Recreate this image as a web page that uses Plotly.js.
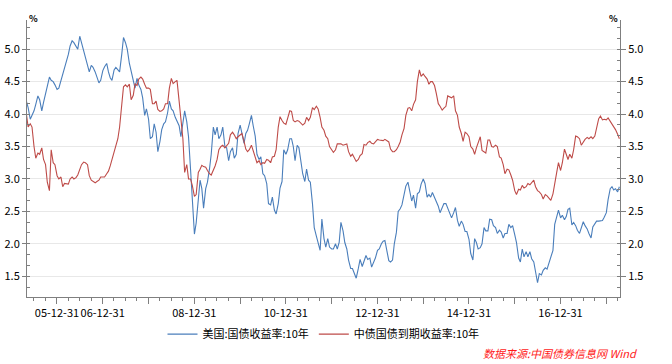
<!DOCTYPE html>
<html>
<head>
<meta charset="utf-8">
<script src="https://cdn.plot.ly/plotly-3.0.1.min.js"></script>
<style>
html,body{margin:0;padding:0;background:#fff;}
#chart{width:672px;height:364px;}
</style>
</head>
<body>
<div id="chart"></div>
<script>
// ---- data (semi-monthly readings, 1st and 15th of each month, 2005-05-01 .. 2018-04-15) ----
const seriesNames = ['美国:国债收益率:10年', '中债国债到期收益率:10年'];

const usYield10y = [
4.20,4.10,3.92,3.98,4.05,4.15,4.28,4.22,4.05,4.18,
4.32,4.42,4.57,4.52,4.50,4.45,4.38,4.40,4.52,4.58,
4.70,4.78,4.92,5.05,5.13,5.10,5.04,5.00,5.20,5.10,
4.98,4.85,4.73,4.65,4.75,4.72,4.65,4.58,4.48,4.52,
4.67,4.73,4.78,4.65,4.56,4.52,4.68,4.72,4.68,4.65,
4.92,5.18,
5.10,5.00,4.78,4.66,4.55,4.40,4.55,4.45,4.38,4.25,
3.98,4.08,3.92,3.62,3.65,3.85,3.72,3.42,3.58,3.76,
3.85,3.88,4.02,4.20,4.08,4.05,3.95,3.90,3.82,3.65,
3.85,4.05,3.88,3.65,3.15,2.60,2.15,2.32,2.75,2.98,
2.85,2.55,2.85,2.95,3.15,3.38,3.80,3.68,3.80,3.62,
3.68,
3.80,3.50,3.48,3.28,3.42,3.48,3.32,3.38,3.70,3.83,
3.70,3.55,3.70,3.75,3.85,3.98,3.82,3.66,3.38,3.30,
3.34,3.08,3.05,2.93,2.62,2.60,2.72,2.52,2.46,2.62,
2.86,2.96,3.45,3.38,3.45,3.62,3.62,3.50,3.28,3.52,
3.48,3.25,3.08,2.96,3.15,2.98,2.95,2.62,2.25,2.12,
2.00,
1.90,2.38,2.08,1.95,2.08,1.95,1.92,1.92,2.00,1.92,
2.02,2.33,2.20,2.02,1.92,1.75,1.62,1.62,1.52,1.47,
1.62,1.76,1.65,1.75,1.82,1.76,1.78,1.64,1.72,1.78,
1.90,1.92,2.00,2.04,2.05,1.92,1.74,1.72,1.75,2.00,
2.18,2.50,2.54,2.60,2.74,2.89,2.95,2.82,2.66,2.75,
2.55,
2.77,2.80,2.92,3.00,2.93,2.72,2.76,2.72,2.79,2.71,
2.66,2.58,2.48,2.56,2.62,2.62,2.55,2.46,2.40,2.48,
2.56,2.36,2.27,2.35,2.30,2.19,2.19,2.07,1.85,1.75,
2.08,2.02,1.92,1.94,2.00,2.25,2.20,2.20,2.38,2.37,
2.28,2.25,2.16,2.21,2.18,2.09,2.16,2.16,2.30,2.25,
2.28,2.14,2.02,1.78,1.72,1.92,1.80,1.88,1.80,1.88,
1.77,1.72,1.56,1.40,1.54,1.52,1.59,1.63,1.61,1.72,
1.79,1.90,2.30,2.41,2.52,2.40,2.44,2.37,2.42,2.53,
2.55,2.29,2.33,2.28,2.21,2.16,2.23,2.34,2.28,2.23,
2.16,2.09,2.26,2.32,2.35,2.35,2.36,2.36,2.41,2.48,
2.68,2.85,2.88,2.83,2.85,2.80,2.88
];

const cnYield10y = [
4.00,3.80,3.85,3.80,3.50,3.32,3.40,3.38,3.48,3.30,
3.22,2.95,2.82,3.45,3.25,3.22,3.05,3.00,3.03,2.88,
2.93,2.92,2.92,3.00,3.03,3.00,3.02,3.06,3.15,3.22,
3.26,3.25,3.22,3.05,2.98,2.96,2.94,2.96,2.98,3.03,
3.03,3.03,3.08,3.12,3.20,3.30,3.45,3.55,3.62,3.80,
4.10,4.42,
4.45,4.42,4.46,4.22,4.29,4.47,4.44,4.54,4.57,4.54,
4.46,4.40,4.40,4.38,4.16,4.16,4.20,4.07,4.04,4.05,
4.08,4.16,4.16,4.40,4.55,4.47,4.50,4.52,4.20,3.90,
3.62,3.10,3.22,3.00,3.00,2.90,2.73,2.76,3.10,3.15,
3.21,3.19,3.18,3.13,3.08,3.06,3.13,3.20,3.30,3.45,
3.50,
3.52,3.48,3.51,3.55,3.68,3.72,3.68,3.62,3.65,3.67,
3.70,3.58,3.46,3.42,3.45,3.52,3.42,3.34,3.25,3.28,
3.22,3.25,3.24,3.30,3.29,3.25,3.34,3.35,3.45,3.80,
3.96,3.90,3.86,3.84,3.92,4.05,4.04,3.90,3.88,3.90,
3.89,3.86,3.83,3.86,3.95,3.90,3.95,4.10,4.07,4.12,
4.08,
3.95,3.80,3.75,3.66,3.62,3.50,3.45,3.41,3.45,3.54,
3.54,3.54,3.52,3.53,3.54,3.42,3.35,3.38,3.33,3.27,
3.30,3.36,3.39,3.53,3.52,3.56,3.58,3.55,3.54,3.58,
3.61,3.60,3.60,3.59,3.61,3.59,3.57,3.46,3.42,3.42,
3.45,3.50,3.57,3.68,3.78,3.98,4.09,4.10,4.05,4.15,
4.22,
4.50,4.68,4.58,4.62,4.58,4.54,4.46,4.50,4.50,4.44,
4.32,4.16,4.12,4.06,4.09,4.12,4.28,4.27,4.25,4.28,
4.05,3.98,3.80,3.70,3.58,3.72,3.70,3.65,3.50,3.46,
3.38,3.48,3.55,3.65,3.44,3.42,3.40,3.60,3.60,3.50,
3.49,3.52,3.50,3.34,3.32,3.22,3.08,3.15,3.14,3.06,
2.98,2.82,2.76,2.84,2.83,2.90,2.86,2.88,2.93,2.91,
2.94,2.98,2.88,2.82,2.80,2.76,2.69,2.76,2.74,2.70,
2.67,2.77,2.90,3.10,3.25,3.13,3.25,3.46,3.38,3.30,
3.38,3.32,3.45,3.66,3.65,3.62,3.52,3.58,3.61,3.64,
3.62,3.65,3.62,3.66,3.78,3.93,3.97,3.91,3.92,3.91,
3.94,3.89,3.83,3.81,3.76,3.69,3.62
];

const xTickVals = ['2005-12-31','2006-12-31','2007-12-31','2008-12-31','2009-12-31','2010-12-31',
  '2011-12-31','2012-12-31','2013-12-31','2014-12-31','2015-12-31','2016-12-31','2017-12-31'];
const xTickText = ['05-12-31','06-12-31','','08-12-31','','10-12-31','','12-12-31','','14-12-31','','16-12-31',''];
const sourceText = '数据来源:中国债券信息网 Wind';

// ---- date index (1st and 15th of each month) ----
const dates = [];
for (let y = 2005; y <= 2018; y++) {
  for (let m = 1; m <= 12; m++) {
    for (const d of [1, 15]) {
      const s = y + '-' + String(m).padStart(2, '0') + '-' + String(d).padStart(2, '0');
      if (s >= '2005-05-01' && s <= '2018-04-15') dates.push(s);
    }
  }
}
// quarter-end minor ticks
const quarterTicks = [];
for (let y = 2005; y <= 2018; y++) {
  for (const md of ['03-31', '06-30', '09-30']) quarterTicks.push(y + '-' + md);
}

const FONT = '"Noto Sans CJK SC", "Microsoft YaHei", sans-serif';
const AXC = '#7f7f7f';

const traces = [
  {x: dates, y: usYield10y, name: seriesNames[0], type: 'scatter', mode: 'lines',
   line: {color: '#4A7EBB', width: 1.1}, yaxis: 'y'},
  {x: dates, y: cnYield10y, name: seriesNames[1], type: 'scatter', mode: 'lines',
   line: {color: '#BE4B48', width: 1.1}, yaxis: 'y2'}
];

const yCommon = {
  range: [1.18, 5.45], dtick: 0.5, tick0: 0, tickformat: '.1f',
  zeroline: false, showline: true, linecolor: AXC, linewidth: 1,
  ticks: 'outside', tickcolor: AXC, tickwidth: 1,
  tickfont: {family: FONT, size: 11, color: '#000'},
  minor: {dtick: 1/6, tick0: 0, ticks: 'inside', ticklen: 3, tickcolor: AXC, tickwidth: 1, showgrid: false},
  fixedrange: true
};

const layout = {
  width: 672, height: 364,
  margin: {l: 27, r: 52, t: 20, b: 67, pad: 0},
  paper_bgcolor: '#fff', plot_bgcolor: '#fff',
  font: {family: FONT, size: 11, color: '#000'},
  showlegend: true,
  legend: {orientation: 'h', x: 0.5, xanchor: 'center', y: -0.134, yanchor: 'middle',
           font: {family: FONT, size: 11, color: '#000'}, bgcolor: 'rgba(0,0,0,0)', itemwidth: 30},
  xaxis: {
    type: 'date', range: ['2005-05-06', '2018-04-20'],
    tickmode: 'array', tickvals: xTickVals, ticktext: xTickText,
    ticks: 'outside', ticklen: 6, tickcolor: AXC, tickwidth: 1,
    showline: true, linecolor: AXC, linewidth: 1, showgrid: false, zeroline: false,
    tickfont: {family: FONT, size: 11, color: '#000'}, tickangle: 0,
    minor: {tickmode: 'array', tickvals: quarterTicks, ticks: 'outside', ticklen: 3, tickcolor: AXC, tickwidth: 1, showgrid: false},
    fixedrange: true
  },
  yaxis: Object.assign({}, yCommon, {side: 'left', ticklen: 4, showgrid: true, gridcolor: '#e8e8e8', gridwidth: 1}),
  yaxis2: Object.assign({}, yCommon, {side: 'right', overlaying: 'y', ticklen: 5, showgrid: false}),
  annotations: [
    {text: '<b>%</b>', xref: 'paper', yref: 'paper', x: 0, y: 1, xanchor: 'left', yanchor: 'middle', yshift: 2,
     showarrow: false, font: {family: FONT, size: 9, color: '#000'}},
    {text: '<b>%</b>', xref: 'paper', yref: 'paper', x: 1, y: 1, xanchor: 'right', yanchor: 'middle', yshift: 2,
     showarrow: false, font: {family: FONT, size: 9, color: '#000'}},
    {text: '<i>' + sourceText + '</i>', xref: 'paper', yref: 'paper', x: 1.0316, y: -0.202,
     xanchor: 'right', yanchor: 'middle', showarrow: false, font: {family: FONT, size: 11, color: '#ff1a1a'}}
  ],
  hovermode: false
};

Plotly.newPlot('chart', traces, layout, {staticPlot: true, displayModeBar: false});
</script>
</body>
</html>
